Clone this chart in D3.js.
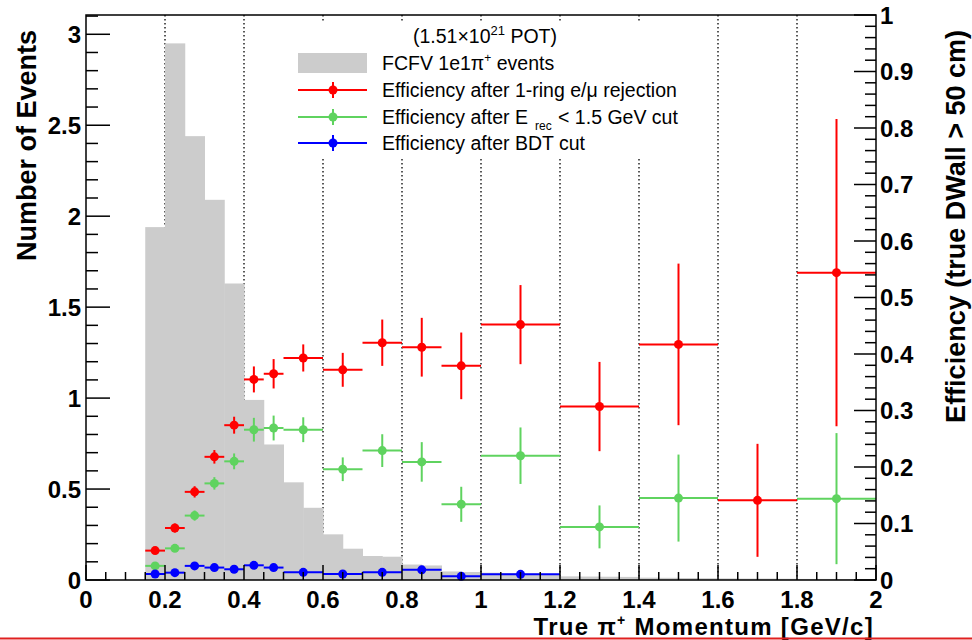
<!DOCTYPE html>
<html><head><meta charset="utf-8">
<script src="https://cdn.jsdelivr.net/npm/d3@7"></script>
<style>body{margin:0;background:#fff}svg{display:block}text{font-family:"Liberation Sans",Arial,sans-serif}</style>
</head><body><svg id="c" width="972" height="640"></svg>
<script>
// ---------- data ----------
const histLow = [0.15,0.20,0.25,0.30,0.35,0.40,0.45,0.50,0.55,0.60,0.65,0.70,0.75,0.80,0.85,0.90,0.95,1.00,1.05,1.10,1.15,1.20,1.25,1.30,1.35,1.40,1.45,1.50,1.55,1.60,1.65,1.70,1.75,1.80,1.85,1.90,1.95];
const histVal = [1.94,2.95,2.44,2.09,1.63,0.99,0.745,0.537,0.397,0.251,0.172,0.132,0.128,0.085,0.080,0.047,0.044,0.040,0.038,0.036,0.034,0.020,0.019,0.018,0.017,0.013,0.012,0.011,0.010,0.009,0.008,0.008,0.007,0.006,0.006,0.005,0.005];
const histWidth = 0.05;

const effLow  = [0.15,0.20,0.25,0.30,0.35,0.40,0.45,0.50,0.60,0.70,0.80,0.90,1.00,1.20,1.40,1.60,1.80];
const effHigh = [0.20,0.25,0.30,0.35,0.40,0.45,0.50,0.60,0.70,0.80,0.90,1.00,1.20,1.40,1.60,1.80,2.00];
const redEff   = [0.052,0.092,0.156,0.218,0.274,0.355,0.365,0.393,0.372,0.420,0.412,0.379,0.452,0.307,0.417,0.141,0.544];
const redErr   = [0.006,0.008,0.010,0.012,0.015,0.023,0.026,0.024,0.030,0.041,0.052,0.059,0.070,0.079,0.143,0.100,0.272];
const greenEff = [0.025,0.056,0.114,0.171,0.210,0.266,0.269,0.266,0.196,0.229,0.209,0.134,0.220,0.094,0.145,null,0.144];
const greenErr = [0.004,0.006,0.009,0.011,0.014,0.021,0.022,0.022,0.021,0.029,0.035,0.031,0.050,0.038,0.077,null,0.116];
const blueEff  = [0.0106,0.013,0.025,0.022,0.019,0.026,0.022,0.0136,0.0106,0.0136,0.018,0.0065,0.010,null,null,null,null];
const blueErr  = [0.003,0.003,0.005,0.005,0.005,0.006,0.006,0.004,0.004,0.005,0.007,0.005,0.005,null,null,null,null];

const xTicks = [0,0.2,0.4,0.6,0.8,1,1.2,1.4,1.6,1.8,2];
const xGrid = [0.2,0.4,0.6,0.8,1,1.2,1.4,1.6,1.8];
const yLeftTicks = [0,0.5,1,1.5,2,2.5,3];
const yRightTicks = [0,0.1,0.2,0.3,0.4,0.5,0.6,0.7,0.8,0.9,1];

const legendItems = ["FCFV 1e1π", "Efficiency after 1-ring e/μ rejection", "Efficiency after E", "Efficiency after BDT cut"];
const colors = {red:"#ff0000", green:"#5fd35f", blue:"#0000ff", hist:"#cccccc"};

// ---------- layout ----------
const L = 86, R = 876, T = 15, B = 580;
const svg = d3.select("#c");
const x = d3.scaleLinear().domain([0,2]).range([L,R]);
const yL = d3.scaleLinear().domain([0,3.106]).range([B,T]);
const yR = d3.scaleLinear().domain([0,1]).range([B,T]);

svg.append("rect").attr("width",972).attr("height",640).attr("fill","#fff");

// gridlines
svg.append("g").selectAll("line").data(xGrid).join("line")
  .attr("x1",d=>x(d)).attr("x2",d=>x(d)).attr("y1",T).attr("y2",B)
  .attr("stroke","#000").attr("stroke-width",1.3).attr("stroke-dasharray","1.5,2.5");

// histogram
svg.append("g").selectAll("rect").data(histLow).join("rect")
  .attr("x",d=>x(d)).attr("width",x(histWidth)-x(0)+0.5)
  .attr("y",(d,i)=>yL(histVal[i])).attr("height",(d,i)=>B-yL(histVal[i]))
  .attr("fill",colors.hist);

// legend box
svg.append("rect").attr("x",290).attr("y",22).attr("width",415).attr("height",135).attr("fill","#fff");

// points
function drawSeries(vals, errs, col){
  const g = svg.append("g");
  vals.forEach((v,i)=>{
    if(v===null) return;
    const cx = x((effLow[i]+effHigh[i])/2), cy = yR(v);
    g.append("line").attr("x1",x(effLow[i])).attr("x2",x(effHigh[i])).attr("y1",cy).attr("y2",cy)
      .attr("stroke",col).attr("stroke-width",2);
    g.append("line").attr("x1",cx).attr("x2",cx).attr("y1",yR(v+errs[i])).attr("y2",yR(Math.max(0,v-errs[i])))
      .attr("stroke",col).attr("stroke-width",2);
    g.append("circle").attr("cx",cx).attr("cy",cy).attr("r",4.5).attr("fill",col);
  });
}
drawSeries(redEff, redErr, colors.red);
drawSeries(greenEff, greenErr, colors.green);
drawSeries(blueEff, blueErr, colors.blue);

// frame
const ax = svg.append("g").attr("stroke","#000").attr("stroke-width",1.5).attr("fill","none");
ax.append("path").attr("d",`M${L},${T}H${R}V${B}H${L}Z`);

// left axis ticks (inward)
d3.range(0,3.101,0.1).forEach(v=>{
  const major = Math.abs(v/0.5-Math.round(v/0.5))<1e-6;
  ax.append("line").attr("x1",L).attr("x2",L+(major?24:12)).attr("y1",yL(v)).attr("y2",yL(v));
});
// bottom axis ticks
d3.range(0,2.001,0.05).forEach(v=>{
  const major = Math.abs(v/0.2-Math.round(v/0.2))<1e-6;
  ax.append("line").attr("x1",x(v)).attr("x2",x(v)).attr("y1",B).attr("y2",B-(major?15:8));
});
// right axis ticks
d3.range(0,1.001,0.02).forEach(v=>{
  const major = Math.abs(v/0.1-Math.round(v/0.1))<1e-6;
  ax.append("line").attr("x1",R).attr("x2",R-(major?22:11)).attr("y1",yR(v)).attr("y2",yR(v));
});

const bold = {"font-weight":"bold","font-size":"24px"};
const boldT = {"font-weight":"bold","font-size":"27px"};
function applyAttrs(sel,o){for(const k in o) sel.style(k,o[k]); return sel;}

// tick labels
applyAttrs(svg.append("g").selectAll("text").data(yLeftTicks).join("text")
  .attr("x",81).attr("y",d=>yL(d)).attr("dy","0.36em").attr("text-anchor","end")
  .text(d=>d3.format("~g")(d)), bold);
applyAttrs(svg.append("g").selectAll("text").data(xTicks).join("text")
  .attr("x",d=>x(d)).attr("y",608).attr("text-anchor","middle")
  .text(d=>d3.format("~g")(d)), bold);
applyAttrs(svg.append("g").selectAll("text").data(yRightTicks).join("text")
  .attr("x",880).attr("y",d=>yR(d)).attr("dy","0.36em").attr("text-anchor","start")
  .text(d=>d3.format("~g")(d)), bold);

// axis titles
applyAttrs(svg.append("text").attr("transform","translate(36,30) rotate(-90)").attr("text-anchor","end")
  .text("Number of Events"), boldT);
applyAttrs(svg.append("text").attr("transform","translate(965,30) rotate(-90)").attr("text-anchor","end")
  .text("Efficiency (true DWall > 50 cm)"), boldT);
const xt = svg.append("text").attr("x",874).attr("y",635).attr("text-anchor","end")
  .style("font-weight","bold").style("font-size","24px").style("letter-spacing","1.3px");
xt.append("tspan").text("True  π");
xt.append("tspan").attr("dy",-10).style("font-size","14px").text("+");
xt.append("tspan").attr("dy",10).text(" Momentum [GeV/c]");

// POT label
const pot = svg.append("text").attr("x",485).attr("y",43).attr("text-anchor","middle").style("font-size","19.5px");
pot.append("tspan").text("(1.51×10");
pot.append("tspan").attr("dy",-8).style("font-size","13px").text("21");
pot.append("tspan").attr("dy",8).text(" POT)");

// legend
const lx0 = 298, lx1 = 367, lxc = 333, tx = 382;
const rowY = [63, 90, 117, 143];
svg.append("rect").attr("x",lx0).attr("y",rowY[0]-10).attr("width",lx1-lx0).attr("height",20).attr("fill",colors.hist);
[colors.red, colors.green, colors.blue].forEach((c,i)=>{
  const yy = rowY[i+1];
  svg.append("line").attr("x1",lx0).attr("x2",lx1).attr("y1",yy).attr("y2",yy).attr("stroke",c).attr("stroke-width",2);
  svg.append("line").attr("x1",lxc).attr("x2",lxc).attr("y1",yy-8).attr("y2",yy+8).attr("stroke",c).attr("stroke-width",2);
  svg.append("circle").attr("cx",lxc).attr("cy",yy).attr("r",4.5).attr("fill",c);
});
const lt = rowY.map(yy=>svg.append("text").attr("x",tx).attr("y",yy+7).style("font-size","19.5px"));
lt[0].append("tspan").text(legendItems[0]);
lt[0].append("tspan").attr("dy",-8).style("font-size","12px").text("+");
lt[0].append("tspan").attr("dy",8).text(" events");
lt[1].text(legendItems[1]);
lt[2].append("tspan").text(legendItems[2]);
lt[2].append("tspan").attr("dy",6).attr("dx",7).style("font-size","12px").text("rec");
lt[2].append("tspan").attr("dy",-6).attr("dx",1).text(" < 1.5 GeV cut");
lt[3].text(legendItems[3]);

// bottom red edge line
svg.append("line").attr("x1",0).attr("x2",972).attr("y1",638.5).attr("y2",638.5).attr("stroke","#e02020").attr("stroke-width",2);
</script></body></html>
